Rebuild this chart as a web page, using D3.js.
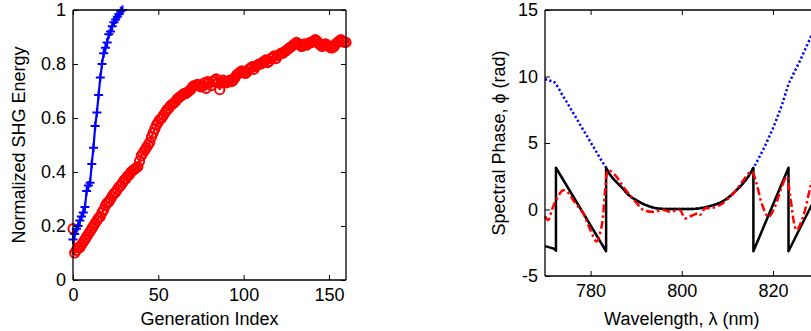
<!DOCTYPE html>
<html><head><meta charset="utf-8">
<script src="https://cdn.jsdelivr.net/npm/d3@7/dist/d3.min.js"></script>
<style>
html,body{margin:0;padding:0;background:#fff;}
svg{display:block;}
text{font-family:"Liberation Sans",Arial,Helvetica,sans-serif;fill:#000;}
</style></head>
<body><svg id="c" width="811" height="331"></svg>
<script>
// ---------- Left panel data ----------
const genTicks = [0, 50, 100, 150];
const genTickLabels = ["0", "50", "100", "150"];
const energyTicks = [0, 0.2, 0.4, 0.6, 0.8, 1];
const energyTickLabels = ["0", "0.2", "0.4", "0.6", "0.8", "1"];
// blue "+" series (generation 0..29)
const blueEnergy = [0.15,0.17,0.19,0.20,0.22,0.235,0.25,0.27,0.33,0.35,0.36,0.43,0.49,0.57,0.62,0.685,0.75,0.80,0.84,0.86,0.88,0.91,0.92,0.94,0.955,0.965,0.975,0.985,0.995,1.0];
// red "o" series (generation 0..160)
const redEnergy = [
0.19,0.10,0.11,0.12,0.12,0.13,0.14,0.15,0.16,0.17,
0.18,0.19,0.20,0.21,0.22,0.23,0.235,0.25,0.26,0.275,
0.285,0.29,0.30,0.31,0.32,0.325,0.335,0.345,0.35,0.36,
0.37,0.375,0.385,0.39,0.40,0.405,0.41,0.415,0.42,0.44,
0.46,0.47,0.48,0.49,0.50,0.51,0.53,0.545,0.56,0.575,
0.585,0.595,0.60,0.61,0.62,0.63,0.635,0.645,0.65,0.655,
0.66,0.67,0.675,0.68,0.685,0.69,0.69,0.695,0.70,0.705,
0.715,0.72,0.72,0.725,0.72,0.715,0.72,0.73,0.71,0.735,
0.73,0.72,0.735,0.74,0.745,0.73,0.705,0.73,0.74,0.735,
0.73,0.735,0.74,0.735,0.74,0.75,0.76,0.765,0.77,0.775,
0.77,0.765,0.77,0.78,0.785,0.79,0.78,0.79,0.795,0.80,
0.80,0.805,0.81,0.815,0.805,0.81,0.82,0.825,0.83,0.82,
0.83,0.835,0.84,0.84,0.845,0.85,0.855,0.86,0.865,0.87,
0.875,0.88,0.875,0.87,0.865,0.87,0.875,0.87,0.875,0.88,
0.88,0.885,0.89,0.885,0.875,0.87,0.865,0.87,0.875,0.87,
0.865,0.86,0.86,0.865,0.875,0.88,0.885,0.89,0.885,0.88,
0.88];

// ---------- Right panel data ----------
const wlTicks = [780, 800, 820];
const wlTickLabels = ["780", "800", "820"];
const phaseTicks = [-5, 0, 5, 10, 15];
const phaseTickLabels = ["-5", "0", "5", "10", "15"];
// unwrapped phase (blue dotted)
const unwrappedWl = [770,771,772,772.4,773,774,775,776,777,778,779,780,781,782,783,783.4,784,785,786,787,788,789,790,791,792,793,794,795,796,797,798,799,800,801,802,803,804,805,806,807,808,809,810,811,812,813,814,815,815.7,816,817,818,819,820,821,822,823,823.4,824,825,826,827,828,829,830];
const unwrappedPhase = [9.8,9.7,9.58,9.42,9.1,8.5,7.95,7.35,6.8,6.2,5.65,5.05,4.5,3.9,3.35,3.14,2.75,2.3,1.95,1.6,1.2,0.9,0.7,0.5,0.35,0.22,0.12,0.07,0.04,0.03,0.03,0.03,0.03,0.03,0.03,0.05,0.1,0.16,0.24,0.33,0.45,0.62,0.85,1.12,1.45,1.8,2.2,2.7,3.14,3.3,3.95,4.6,5.35,6.1,7.0,7.9,9.0,9.42,9.85,10.55,11.25,12.0,12.75,13.5,14.2];
// wrapped phase (black solid)
const wrappedWl = [770,771,772,772.4,772.4,783.4,783.4,784,785,786,787,788,789,790,791,792,793,794,795,796,797,798,799,800,801,802,803,804,805,806,807,808,809,810,811,812,813,814,815,815.7,815.7,823.4,823.4,826,828,830];
const wrappedPhase = [-2.75,-2.85,-2.95,-3.1,3.14,-3.14,3.14,2.75,2.3,1.95,1.6,1.2,0.9,0.7,0.5,0.35,0.22,0.12,0.07,0.04,0.03,0.03,0.03,0.03,0.03,0.03,0.05,0.1,0.16,0.24,0.33,0.45,0.62,0.85,1.12,1.45,1.8,2.2,2.7,3.14,-3.14,3.14,-3.14,-1.35,0.0,1.35];
// measured phase (red dash-dot)
const measuredWl = [770,770.7,771.5,772.4,774,775.1,776.2,777.3,778.4,779.9,781.3,782.4,783.2,783.9,785.7,786.4,788.3,790.1,791.6,793.8,796,797.4,799.6,800.7,802.5,803.6,804,805.1,806.2,808.4,811.3,813.5,815.3,816.4,817.5,819,820.4,821.9,823,823.7,824.8,825.2,826.6,827.7,828.3,829,830];
const measuredPhase = [-0.5,-0.8,-0.05,0.7,1.45,1.25,0.7,0.2,-0.3,-1.5,-2.4,-1.3,1.45,2.95,2.45,2.1,1.2,0.47,-0.04,-0.17,-0.04,-0.17,-0.04,-0.66,-0.41,-0.29,-0.4,0.09,0.09,0.34,1.2,2.2,2.85,1.95,0.47,-0.55,0.2,1.7,2.45,1.2,-1.3,-1.55,-0.55,0.95,1.85,2.6,3.2];

const svg = d3.select("#c");
const FS = 18;

function box(g, x, y, xt, xl, yt, yl, xLabel, yLabel, ylabX) {
  const [x0, x1] = x.range();
  const [y0, y1] = y.range();
  const ax = g.append("g").attr("class", "axes");
  ax.append("g").attr("transform", `translate(0,${y0})`)
    .call(d3.axisBottom(x).tickValues(xt).tickFormat((d,i)=>xl[i]).tickSize(-5).tickPadding(8));
  ax.append("g").attr("transform", `translate(0,${y1})`)
    .call(d3.axisTop(x).tickValues(xt).tickFormat("").tickSize(-5));
  ax.append("g").attr("transform", `translate(${x0},0)`)
    .call(d3.axisLeft(y).tickValues(yt).tickFormat((d,i)=>yl[i]).tickSize(-5).tickPadding(7));
  ax.append("g").attr("transform", `translate(${x1},0)`)
    .call(d3.axisRight(y).tickValues(yt).tickFormat("").tickSize(-5));
  ax.selectAll(".domain").remove();
  ax.selectAll(".tick line").attr("stroke", "#000").attr("stroke-width", 1);
  ax.selectAll(".tick text").attr("font-size", FS).attr("font-family", '"Liberation Sans",Arial,sans-serif').attr("fill", "#000");
  const edges = [[x0,y0,x1,y0],[x0,y1,x1,y1],[x0,y0,x0,y1],[x1,y0,x1,y1]];
  edges.forEach(e => ax.append("line").attr("x1", e[0]).attr("y1", e[1]).attr("x2", e[2]).attr("y2", e[3])
    .attr("stroke", "#000").attr("stroke-width", 1.3));
  g.append("text").attr("x", (x0 + x1) / 2).attr("y", 325).attr("text-anchor", "middle")
    .attr("font-size", FS).text(xLabel);
  g.append("text").attr("transform", `translate(${ylabX},${(y0 + y1) / 2}) rotate(-90)`)
    .attr("text-anchor", "middle").attr("font-size", FS).text(yLabel);
}

// ---------- Left panel ----------
{
  const x = d3.scaleLinear().domain([0, 160]).range([73, 346]);
  const y = d3.scaleLinear().domain([0, 1]).range([280, 10]);
  const g = svg.append("g");
  const data = g.append("g");
  const line = d3.line().x(d => x(d[0])).y(d => y(d[1]));
  const red = redEnergy.map((v, i) => [i, v]);
  const blue = blueEnergy.map((v, i) => [i, v]);
  data.append("path").datum(red).attr("d", line).attr("fill", "none").attr("stroke", "#ff0000").attr("stroke-width", 2.2);
  data.selectAll("circle.r").data(red).join("circle").attr("class", "r")
    .attr("cx", d => x(d[0])).attr("cy", d => y(d[1])).attr("r", 4.6)
    .attr("fill", "none").attr("stroke", "#ff0000").attr("stroke-width", 2);
  data.append("path").datum(blue).attr("d", line).attr("fill", "none").attr("stroke", "#0000ff").attr("stroke-width", 2.2);
  data.selectAll("path.p").data(blue).join("path").attr("class", "p")
    .attr("d", d => `M${x(d[0]) - 4.5},${y(d[1])}H${x(d[0]) + 4.5}M${x(d[0])},${y(d[1]) - 4.5}V${y(d[1]) + 4.5}`)
    .attr("stroke", "#0000ff").attr("stroke-width", 2).attr("fill", "none");
  box(g, x, y, genTicks, genTickLabels, energyTicks, energyTickLabels, "Generation Index", "Normalized SHG Energy", 25);
}

// ---------- Right panel ----------
{
  const x = d3.scaleLinear().domain([770, 830]).range([545, 818.6]);
  const y = d3.scaleLinear().domain([-5, 15]).range([276, 10]);
  const g = svg.append("g");
  const unw = unwrappedWl.map((w, i) => [w, unwrappedPhase[i]]);
  const wr = wrappedWl.map((w, i) => [w, wrappedPhase[i]]);
  const me = measuredWl.map((w, i) => [w, measuredPhase[i]]);
  g.append("path").datum(unw).attr("d", d3.line().x(d => x(d[0])).y(d => y(d[1])).curve(d3.curveMonotoneX)).attr("fill", "none")
    .attr("stroke", "#0000ff").attr("stroke-width", 2.5).attr("stroke-dasharray", "2.2,2.3");
  g.append("path").datum(wr).attr("d", d3.line().x(d => x(d[0])).y(d => y(d[1]))).attr("fill", "none")
    .attr("stroke", "#000").attr("stroke-width", 2.5).attr("stroke-linejoin", "round");
  g.append("path").datum(me).attr("d", d3.line().x(d => x(d[0])).y(d => y(d[1])).curve(d3.curveCatmullRom)).attr("fill", "none")
    .attr("stroke", "#ff0000").attr("stroke-width", 2.5).attr("stroke-dasharray", "8,3,2.5,3");
  box(g, x, y, wlTicks, wlTickLabels, phaseTicks, phaseTickLabels, "Wavelength, \u03bb (nm)", "Spectral Phase, \u03d5 (rad)", 505);
}
</script></body></html>
